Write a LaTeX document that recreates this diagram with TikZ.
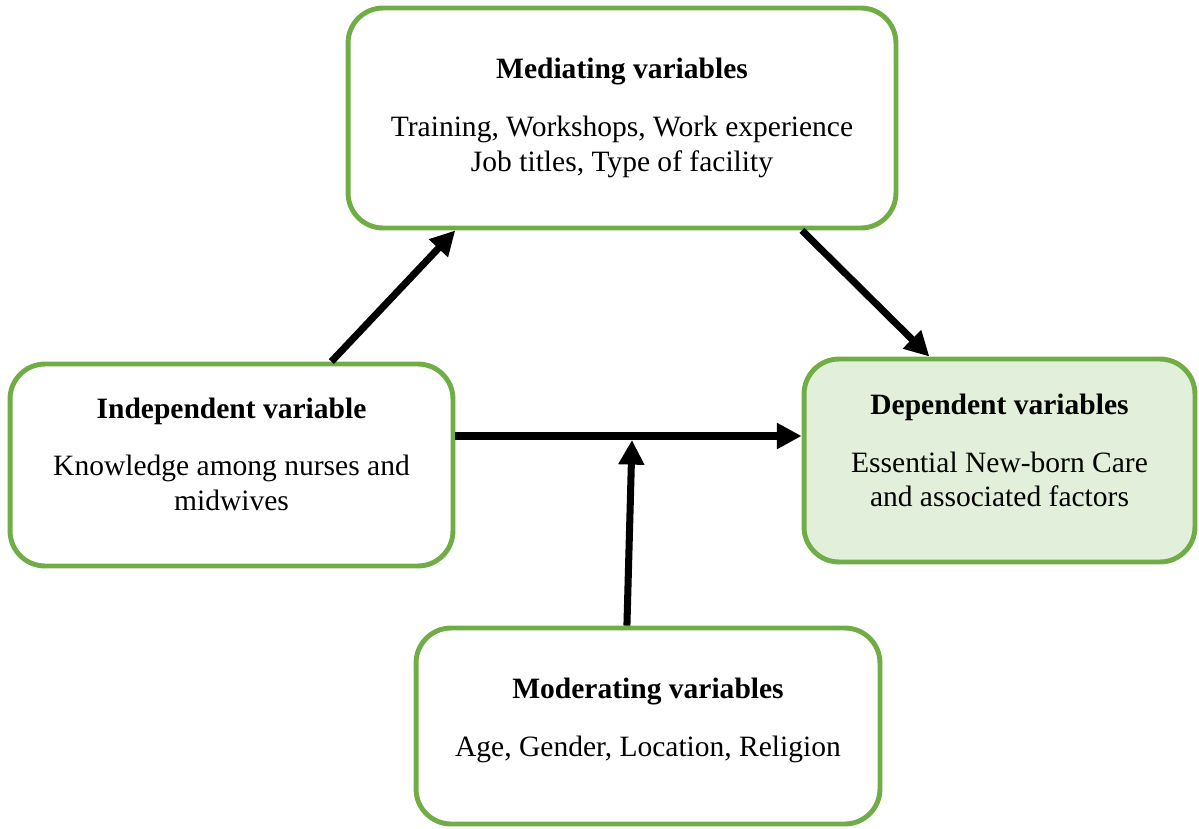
\documentclass[tikz,border=0pt]{standalone}
\usepackage{fontspec}
\setmainfont{LiberationSerif}[Extension=.ttf,UprightFont=*-Regular,BoldFont=*-Bold,
    ItalicFont=*-Italic,BoldItalicFont=*-BoldItalic]
\usetikzlibrary{arrows.meta}
\definecolor{boxgreen}{HTML}{70AD47}
\definecolor{boxfill}{HTML}{E2EFDA}

\begin{document}
\begin{tikzpicture}[x=0.02cm,y=-0.02cm,
        varbox/.style={draw=boxgreen,line width=2.8pt,rounded corners=0.7cm,inner sep=0pt},
        vartext/.style={align=center,inner sep=0pt,font=\fontsize{16.8}{19.8}\selectfont},
        link/.style={line width=4pt,-{Triangle[length=14pt,width=14pt]}}]
    \useasboundingbox (0,0) rectangle (1199,828);

    % the four boxes
    \node[varbox,minimum width=10.96cm,minimum height=4.4cm] (med) at (622,118) {};
    \node[varbox,minimum width=8.86cm,minimum height=4.04cm] (ind) at (231.5,465) {};
    \node[varbox,fill=boxfill,minimum width=7.82cm,minimum height=4.06cm] (dep) at (999.5,460.5) {};
    \node[varbox,minimum width=9.28cm,minimum height=3.92cm] (mod) at (648,726) {};

    % their texts
    \node[vartext] (medtxt) at (med)
        {\textbf{Mediating variables}\\[13pt]Training, Workshops, Work experience\\Job titles, Type of facility};
    \node[vartext] (indtxt) at ([yshift=6pt]ind)
        {\textbf{Independent variable}\\[13pt]Knowledge among nurses and\\midwives};
    \node[vartext] (deptxt) at ([yshift=5.7pt]dep)
        {\textbf{Dependent variables}\\[13pt]Essential New-born Care\\and associated factors};
    \node[vartext] (modtxt) at ([yshift=3pt]mod)
        {\textbf{Moderating variables}\\[13pt]Age, Gender, Location, Religion};

    % arrows
    \coordinate (mid) at (632,436);
    \coordinate (midtip) at (632,440);
    \draw[link] (ind.46) -- (med.214);
    \draw[link] (med.-32) -- (dep.124);
    \draw[link] (ind.east |- mid) -- (dep.west |- mid);
    \draw[link] ([xshift=-12pt]mod.north) -- (midtip);
\end{tikzpicture}
\end{document}
